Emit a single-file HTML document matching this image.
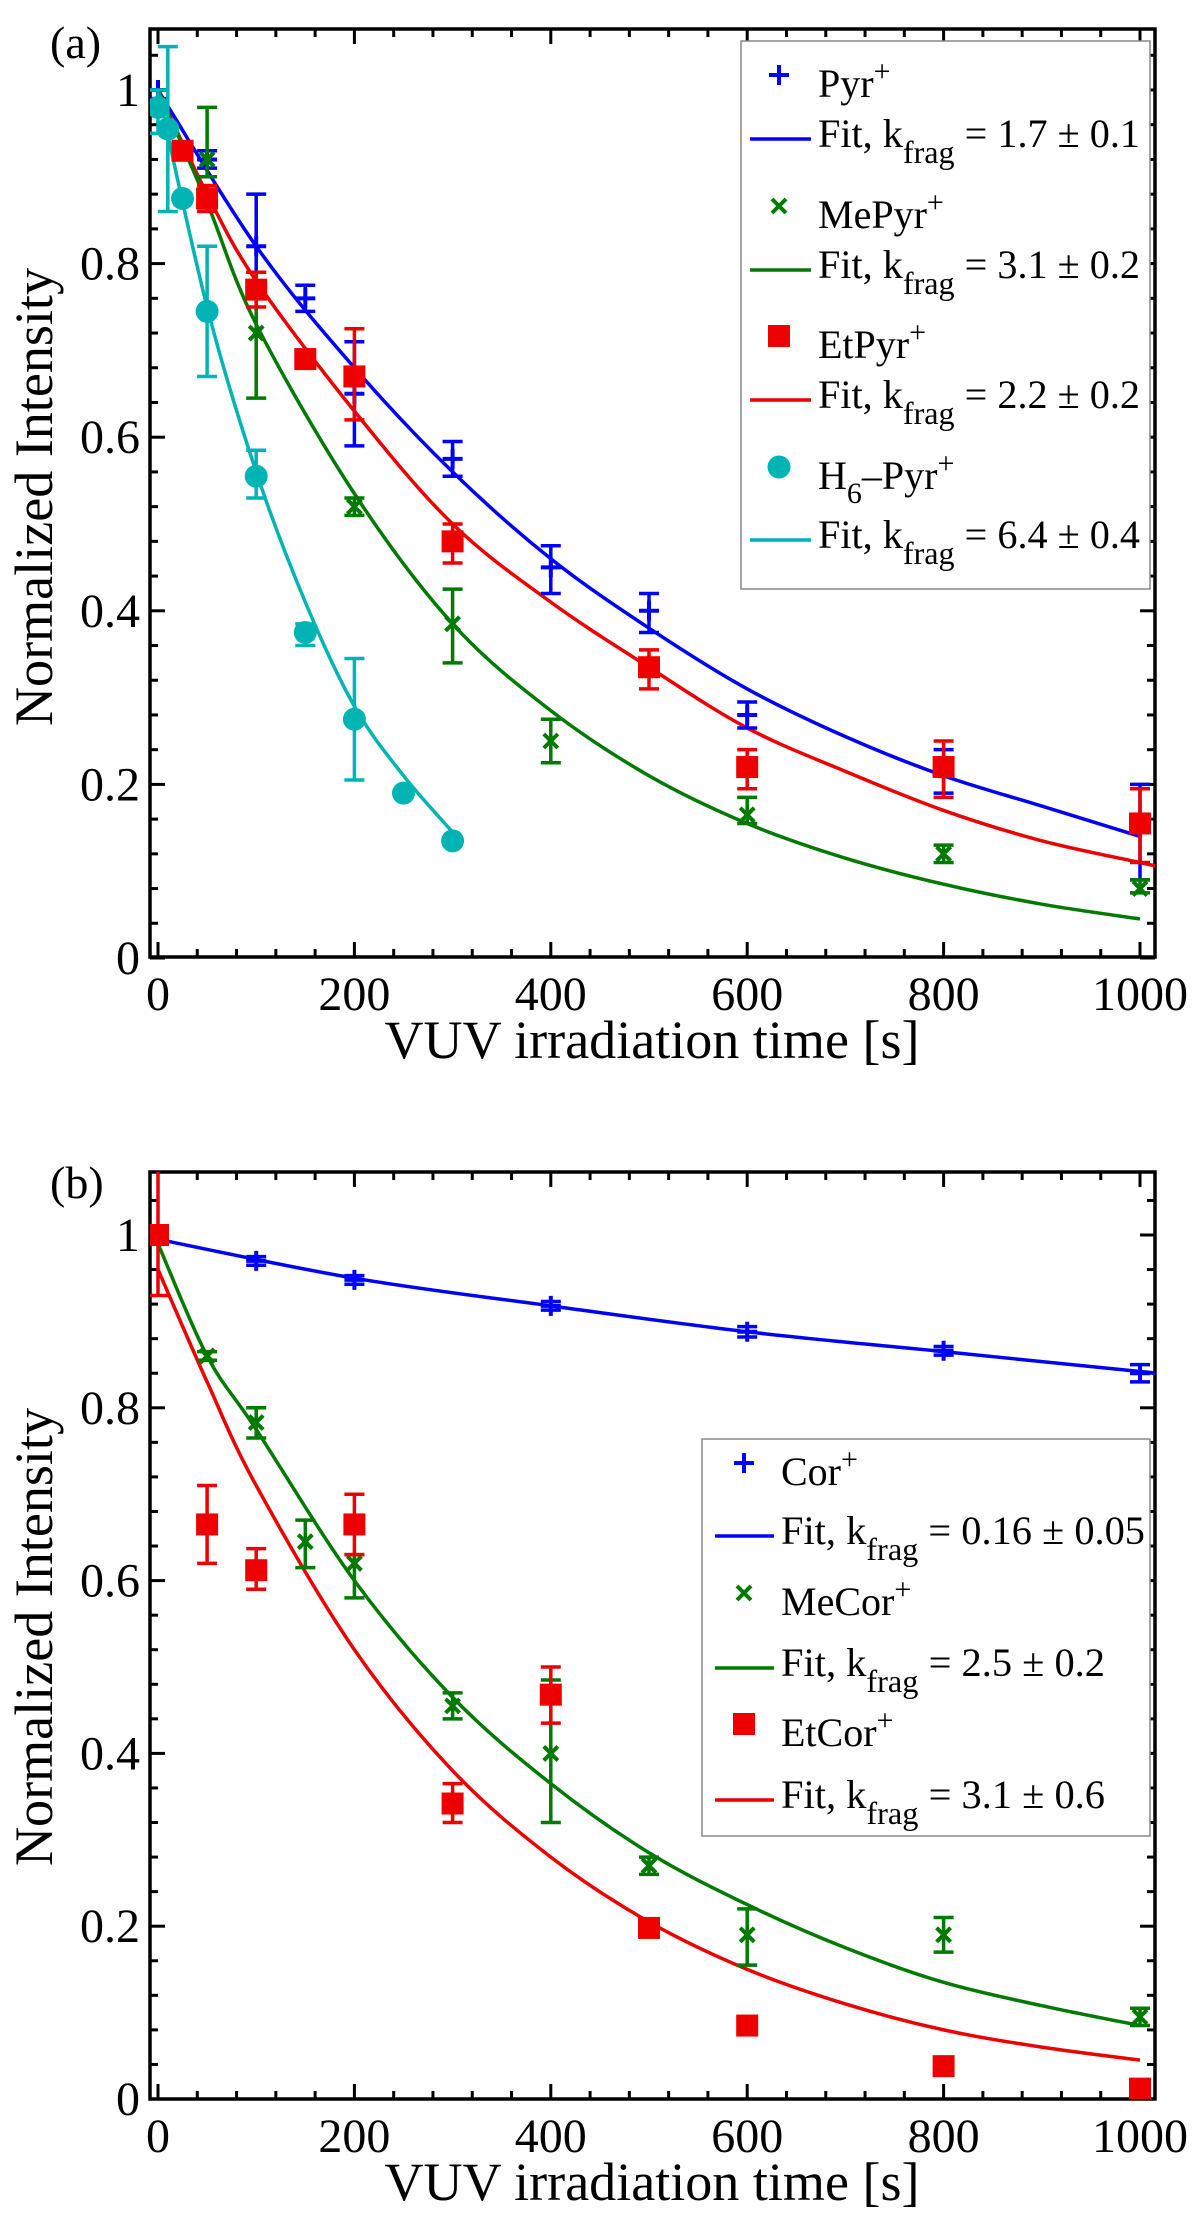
<!DOCTYPE html>
<html><head><meta charset="utf-8"><style>
html,body{margin:0;padding:0;background:#fff;}
svg, svg text, svg tspan{font-family:"Liberation Serif","Times New Roman",serif;}
</style></head><body>
<svg id="fig" width="1200" height="2225" viewBox="0 0 1200 2225" xmlns="http://www.w3.org/2000/svg" font-family="Liberation Serif, Times New Roman, serif"></svg>
<script>
// ---------- Panel (a) data ----------
const pyrT = [0, 50, 100, 150, 200, 300, 400, 500, 600, 800, 1000];
const pyrV = [1.0, 0.92, 0.82, 0.76, 0.65, 0.575, 0.45, 0.40, 0.28, 0.22, 0.15];
const pyrLo = [0.99, 0.91, 0.78, 0.745, 0.59, 0.555, 0.42, 0.375, 0.265, 0.19, 0.09];
const pyrHi = [1.0, 0.93, 0.88, 0.775, 0.71, 0.595, 0.475, 0.42, 0.295, 0.24, 0.20];
const pyrFitT = [0, 100, 200, 300, 400, 500, 600, 700, 800, 900, 1000];
const pyrFitV = [1.0, 0.82, 0.68, 0.56, 0.46, 0.38, 0.31, 0.255, 0.21, 0.175, 0.14];

const mepyrT = [50, 100, 200, 300, 400, 600, 800, 1000];
const mepyrV = [0.92, 0.72, 0.52, 0.385, 0.25, 0.165, 0.12, 0.08];
const mepyrLo = [0.90, 0.645, 0.51, 0.34, 0.225, 0.155, 0.11, 0.075];
const mepyrHi = [0.98, 0.79, 0.53, 0.425, 0.275, 0.185, 0.13, 0.09];
const mepyrFitT = [0, 50, 100, 200, 300, 400, 500, 600, 700, 800, 900, 1000];
const mepyrFitV = [1.0, 0.87, 0.73, 0.535, 0.385, 0.285, 0.21, 0.155, 0.115, 0.085, 0.062, 0.045];

const etpyrT = [25, 50, 100, 150, 200, 300, 500, 600, 800, 1000];
const etpyrV = [0.93, 0.875, 0.77, 0.69, 0.67, 0.48, 0.335, 0.22, 0.22, 0.155];
const etpyrLo = [0.92, 0.86, 0.75, 0.685, 0.62, 0.455, 0.31, 0.195, 0.185, 0.11];
const etpyrHi = [0.94, 0.89, 0.79, 0.695, 0.725, 0.50, 0.355, 0.24, 0.25, 0.195];
const etpyrFitT = [0, 50, 100, 200, 300, 400, 500, 600, 700, 800, 900, 1000, 1020];
const etpyrFitV = [1.0, 0.88, 0.78, 0.63, 0.50, 0.41, 0.335, 0.265, 0.215, 0.17, 0.135, 0.11, 0.105];

const h6T = [0, 10, 25, 50, 100, 150, 200, 250, 300];
const h6V = [0.98, 0.955, 0.875, 0.745, 0.555, 0.375, 0.275, 0.19, 0.135];
const h6Lo = [0.95, 0.86, 0.875, 0.67, 0.53, 0.36, 0.205, 0.19, 0.135];
const h6Hi = [1.0, 1.05, 0.875, 0.82, 0.585, 0.385, 0.345, 0.19, 0.135];
const h6FitT = [0, 50, 100, 150, 200, 250, 300];
const h6FitV = [1.0, 0.75, 0.56, 0.41, 0.29, 0.21, 0.145];

// ---------- Panel (b) data ----------
const corT = [0, 100, 200, 400, 600, 800, 1000];
const corV = [1.0, 0.97, 0.948, 0.918, 0.888, 0.866, 0.84];
const corLo = [0.995, 0.965, 0.943, 0.913, 0.882, 0.861, 0.83];
const corHi = [1.005, 0.975, 0.953, 0.923, 0.894, 0.871, 0.85];
const corFitT = [0, 200, 400, 600, 800, 1000, 1020];
const corFitV = [0.995, 0.95, 0.918, 0.888, 0.865, 0.842, 0.84];

const mecorT = [50, 100, 150, 200, 300, 400, 500, 600, 800, 1000];
const mecorV = [0.86, 0.783, 0.645, 0.62, 0.455, 0.40, 0.27, 0.19, 0.19, 0.095];
const mecorLo = [0.855, 0.765, 0.615, 0.58, 0.44, 0.32, 0.26, 0.155, 0.17, 0.085];
const mecorHi = [0.865, 0.80, 0.67, 0.63, 0.47, 0.485, 0.28, 0.22, 0.21, 0.105];
const mecorFitT = [0, 50, 100, 200, 300, 400, 500, 600, 700, 800, 900, 1000];
const mecorFitV = [0.99, 0.86, 0.775, 0.60, 0.465, 0.365, 0.285, 0.225, 0.175, 0.135, 0.108, 0.085];

const etcorT = [0, 50, 100, 200, 300, 400, 500, 600, 800, 1000];
const etcorV = [1.0, 0.665, 0.612, 0.665, 0.342, 0.468, 0.198, 0.085, 0.038, 0.012];
const etcorLo = [0.93, 0.62, 0.59, 0.63, 0.32, 0.435, 0.19, 0.085, 0.038, 0.012];
const etcorHi = [1.08, 0.71, 0.637, 0.70, 0.365, 0.50, 0.205, 0.085, 0.038, 0.012];
const etcorFitT = [0, 50, 100, 200, 300, 400, 500, 600, 700, 800, 900, 1000];
const etcorFitV = [0.96, 0.83, 0.71, 0.52, 0.38, 0.28, 0.205, 0.15, 0.11, 0.08, 0.06, 0.045];

const xTicks = [0, 200, 400, 600, 800, 1000];
const xTickLabels = ["0", "200", "400", "600", "800", "1000"];
const yTicks = [0, 0.2, 0.4, 0.6, 0.8, 1.0];
const yTickLabels = ["0", "0.2", "0.4", "0.6", "0.8", "1"];

const NS = "http://www.w3.org/2000/svg";
const svg = document.getElementById("fig");
const BLUE = "#0000ff", GREEN = "#007a00", RED = "#ee0000", CYAN = "#00b4b4";
const FONT = "Liberation Serif, Times New Roman, serif";

function mk(tag, attrs, parent) {
  const e = document.createElementNS(NS, tag);
  for (const k in attrs) e.setAttribute(k, attrs[k]);
  if (tag === "text") e.setAttribute("font-family", FONT);
  (parent || svg).appendChild(e);
  return e;
}

function makePanel(cfg) {
  const g = mk("g", {});
  
  
  const sx = v => cfg.x0 + v * (cfg.x1000 - cfg.x0) / 1000;
  const sy = v => cfg.y0 - v * (cfg.y0 - cfg.y1);
  cfg.sx = sx; cfg.sy = sy; cfg.g = g;
  const tg = mk("g", {stroke: "#000", "stroke-width": 3}, g);
  
  
  for (let v = 0; v <= 1000; v += 40) {
    const X = sx(v), major = v % 200 === 0, L = major ? 15 : 8;
    mk("line", {x1: X, x2: X, y1: cfg.bottom, y2: cfg.bottom - L}, tg);
    mk("line", {x1: X, x2: X, y1: cfg.top, y2: cfg.top + L}, tg);
  }
  for (let i = 0; i <= 26; i++) {
    const v = i * 0.04; const Y = sy(v);
    if (Y < cfg.top) continue;
    const major = i % 5 === 0, L = major ? 15 : 8;
    mk("line", {x1: cfg.left, x2: cfg.left + L, y1: Y, y2: Y}, tg);
    mk("line", {x1: cfg.right, x2: cfg.right - L, y1: Y, y2: Y}, tg);
  }
  const fr = mk("rect", {x: cfg.left, y: cfg.top, width: cfg.right - cfg.left, height: cfg.bottom - cfg.top, fill: "none", stroke: "#000", "stroke-width": 3.5}, g);
  
  
  xTicks.forEach((v, i) => {
    const t = mk("text", {x: sx(v), y: cfg.bottom + 53, "font-size": 48, "text-anchor": "middle"}, g);
    
    
    t.textContent = xTickLabels[i];
  });
  yTicks.forEach((v, i) => {
    const t = mk("text", {x: 140, y: sy(v) + 16, "font-size": 48, "text-anchor": "end"}, g);
    
    
    t.textContent = yTickLabels[i];
  });
  const xt = mk("text", {x: 652, y: cfg.xTitleY, "font-size": 54, "text-anchor": "middle", textLength: 535, lengthAdjust: "spacingAndGlyphs"}, g);
  
  
  xt.textContent = "VUV irradiation time [s]";
  const yt = mk("text", {x: 0, y: 0, "font-size": 54, "text-anchor": "middle", textLength: 458, lengthAdjust: "spacingAndGlyphs", transform: `translate(52,${cfg.yTitleC}) rotate(-90)`}, g);
  
  
  yt.textContent = "Normalized Intensity";
  const pl = mk("text", {x: 50, y: cfg.labelY, "font-size": 46}, g);
  
  
  pl.textContent = cfg.label;
  const cp = mk("clipPath", {id: cfg.name + "-clip"}, g);
  mk("rect", {x: cfg.left, y: cfg.top, width: cfg.right - cfg.left, height: cfg.bottom - cfg.top}, cp);
  cfg.plot = mk("g", {"clip-path": `url(#${cfg.name}-clip)`}, g);
  return cfg;
}

function curvePath(pts) {
  let d = `M${pts[0][0]},${pts[0][1]}`;
  for (let i = 0; i < pts.length - 1; i++) {
    const p0 = pts[Math.max(0, i - 1)], p1 = pts[i], p2 = pts[i + 1], p3 = pts[Math.min(pts.length - 1, i + 2)];
    const c1 = [p1[0] + (p2[0] - p0[0]) / 6, p1[1] + (p2[1] - p0[1]) / 6];
    const c2 = [p2[0] - (p3[0] - p1[0]) / 6, p2[1] - (p3[1] - p1[1]) / 6];
    d += ` C${c1[0]},${c1[1]} ${c2[0]},${c2[1]} ${p2[0]},${p2[1]}`;
  }
  return d;
}

function fit(p, T, V, color, name) {
  const pts = T.map((t, i) => [p.sx(t), p.sy(V[i])]);
  const e = mk("path", {d: curvePath(pts), fill: "none", stroke: color, "stroke-width": 3.5}, p.plot);
  
  
}

function marker(parent, type, X, Y, color) {
  let e;
  if (type === "plus") {
    e = mk("path", {d: `M${X - 10},${Y}H${X + 10}M${X},${Y - 10}V${Y + 10}`, stroke: color, "stroke-width": 4, fill: "none"}, parent);
  } else if (type === "x") {
    e = mk("path", {d: `M${X - 7},${Y - 7}L${X + 7},${Y + 7}M${X - 7},${Y + 7}L${X + 7},${Y - 7}`, stroke: color, "stroke-width": 4, fill: "none"}, parent);
  } else if (type === "square") {
    e = mk("rect", {x: X - 11, y: Y - 11, width: 22, height: 22, fill: color}, parent);
  } else {
    e = mk("circle", {cx: X, cy: Y, r: 11.5, fill: color}, parent);
  }
  return e;
}

function series(p, T, V, Lo, Hi, color, type, name) {
  const g = mk("g", {}, p.plot);
  
  
  T.forEach((t, i) => {
    const X = p.sx(t), yl = p.sy(Lo[i]), yh = p.sy(Hi[i]);
    if (Math.abs(yl - yh) > 1) {
      const eb = mk("path", {d: `M${X},${yl}V${yh}M${X - 10},${yl}H${X + 10}M${X - 10},${yh}H${X + 10}`, stroke: color, "stroke-width": 3.5, fill: "none"}, g);
      
      
    }
    const m = marker(g, type, X, p.sy(V[i]), color);
    
    
  });
}

function legend(box, entries, mx, tx, lx1, lx2) {
  const g = mk("g", {});
  
  
  const r = mk("rect", {x: box[0], y: box[1], width: box[2], height: box[3], fill: "#fff", stroke: "#888", "stroke-width": 1.5}, g);
  
  
  entries.forEach(en => {
    const eg = mk("g", {}, g);
    
    
    marker(eg, en.type, mx, en.by - 22, en.color);
    const t = mk("text", {x: tx, y: en.by, "font-size": 40}, eg);
    t.innerHTML = en.label;
    mk("line", {x1: lx1, x2: lx2, y1: en.fy - 8, y2: en.fy - 8, stroke: en.color, "stroke-width": 3.5}, eg);
    const f = mk("text", {x: tx, y: en.fy, "font-size": 40, textLength: en.w, lengthAdjust: "spacingAndGlyphs"}, eg);
    f.innerHTML = `Fit, k<tspan dy="16" font-size="32">frag</tspan><tspan dy="-16"> = ${en.k} ± ${en.e}</tspan>`;
  });
}

// Panel a
const A = makePanel({name: "panel-a", left: 150, right: 1155, top: 29, bottom: 957, x0: 158, x1000: 1140, y0: 958, y1: 90, xTitleY: 1058, yTitleC: 497, labelY: 58, label: "(a)"});
fit(A, pyrFitT, pyrFitV, BLUE, "pyr-fit-line");
fit(A, etpyrFitT, etpyrFitV, RED, "etpyr-fit-line");
fit(A, mepyrFitT, mepyrFitV, GREEN, "mepyr-fit-line");
fit(A, h6FitT, h6FitV, CYAN, "h6pyr-fit-line");
series(A, pyrT, pyrV, pyrLo, pyrHi, BLUE, "plus", "pyr-series");
series(A, mepyrT, mepyrV, mepyrLo, mepyrHi, GREEN, "x", "mepyr-series");
series(A, etpyrT, etpyrV, etpyrLo, etpyrHi, RED, "square", "etpyr-series");
series(A, h6T, h6V, h6Lo, h6Hi, CYAN, "circle", "h6pyr-series");
legend([741, 41, 409, 548], [
  {type: "plus", color: BLUE, label: 'Pyr<tspan dy="-16" font-size="30">+</tspan>', k: "1.7", e: "0.1", by: 97, fy: 147, w: 322},
  {type: "x", color: GREEN, label: 'MePyr<tspan dy="-16" font-size="30">+</tspan>', k: "3.1", e: "0.2", by: 228, fy: 278, w: 322},
  {type: "square", color: RED, label: 'EtPyr<tspan dy="-16" font-size="30">+</tspan>', k: "2.2", e: "0.2", by: 358, fy: 408, w: 322},
  {type: "circle", color: CYAN, label: 'H<tspan dy="14" font-size="30">6</tspan><tspan dy="-14">–Pyr</tspan><tspan dy="-16" font-size="30">+</tspan>', k: "6.4", e: "0.4", by: 489, fy: 548, w: 322}
], 779, 818, 750, 811);

// Panel b
const B = makePanel({name: "panel-b", left: 150, right: 1155, top: 1172, bottom: 2099, x0: 158, x1000: 1140, y0: 2099, y1: 1235, xTitleY: 2200, yTitleC: 1637, labelY: 1198, label: "(b)"});
fit(B, corFitT, corFitV, BLUE, "cor-fit-line");
fit(B, etcorFitT, etcorFitV, RED, "etcor-fit-line");
fit(B, mecorFitT, mecorFitV, GREEN, "mecor-fit-line");
series(B, corT, corV, corLo, corHi, BLUE, "plus", "cor-series");
series(B, mecorT, mecorV, mecorLo, mecorHi, GREEN, "x", "mecor-series");
series(B, etcorT, etcorV, etcorLo, etcorHi, RED, "square", "etcor-series");
legend([702, 1439, 448, 397], [
  {type: "plus", color: BLUE, label: 'Cor<tspan dy="-16" font-size="30">+</tspan>', k: "0.16", e: "0.05", by: 1485, fy: 1544, w: 364},
  {type: "x", color: GREEN, label: 'MeCor<tspan dy="-16" font-size="30">+</tspan>', k: "2.5", e: "0.2", by: 1615, fy: 1676, w: 324},
  {type: "square", color: RED, label: 'EtCor<tspan dy="-16" font-size="30">+</tspan>', k: "3.1", e: "0.6", by: 1746, fy: 1808, w: 324}
], 744, 781, 715, 774);
</script>
</body></html>
